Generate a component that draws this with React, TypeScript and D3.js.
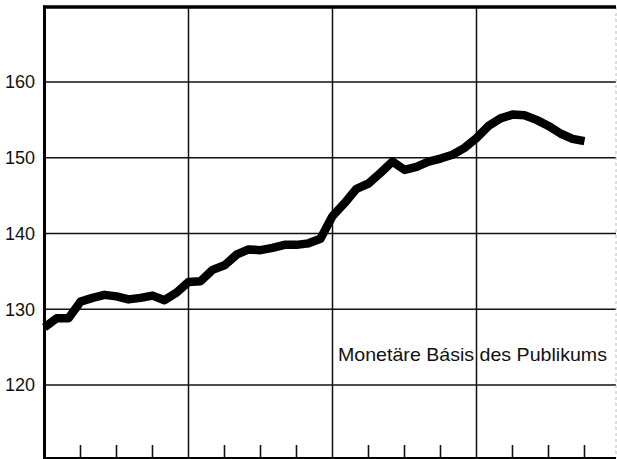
import React from "react";
import * as d3 from "d3";

const months: number[] = d3.range(0, 46);
const values: number[] = [
  127.6, 128.8, 128.8, 131.0, 131.5, 131.9, 131.7, 131.3, 131.5, 131.8, 131.2, 132.2,
  133.6, 133.7, 135.2, 135.8, 137.2, 137.9, 137.8, 138.1, 138.5, 138.5, 138.7, 139.3,
  142.3, 144.0, 145.9, 146.6, 148.0, 149.5, 148.4, 148.8, 149.5, 149.9, 150.4, 151.3,
  152.6, 154.2, 155.2, 155.7, 155.6, 155.0, 154.2, 153.2, 152.5, 152.2,
];
const yTicks: number[] = [120, 130, 140, 150, 160];
const yearBoundaries: number[] = [12, 24, 36];
const quarterTicks: number[] = [3, 6, 9, 15, 18, 21, 27, 30, 33, 39, 42, 45];
const seriesLabel = "Monetäre Básis des Publikums";

const W = 617;
const H = 459;

export default function App() {
  const x = d3.scaleLinear().domain([0, 48]).range([44.5, 620.5]);
  const y = d3.scaleLinear().domain([120, 160]).range([385, 82]);
  const top = y(169.9);
  const bottom = 458;
  const left = x(0);
  const right = 616;

  const line = d3
    .line<number>()
    .x((_, i) => x(months[i]))
    .y((d) => y(d))
    .curve(d3.curveLinear);

  return (
    <svg
      width={W}
      height={H}
      style={{ position: "absolute", left: 0, top: 0, background: "#fff" }}
      fontFamily="'Liberation Sans', Arial, sans-serif"
    >
      {yTicks.map((t) => (
        <line key={"g" + t} x1={left} x2={right} y1={y(t)} y2={y(t)} stroke="#111" strokeWidth={1.5} />
      ))}
      {yearBoundaries.map((m) => (
        <line key={"v" + m} x1={x(m)} x2={x(m)} y1={top} y2={bottom} stroke="#111" strokeWidth={1.5} />
      ))}
      {quarterTicks.map((m) => (
        <line key={"t" + m} x1={x(m)} x2={x(m)} y1={bottom - 13} y2={bottom} stroke="#111" strokeWidth={1.6} />
      ))}
      <line x1={right} x2={right} y1={top} y2={bottom} stroke="#bbb" strokeWidth={1} strokeDasharray="3 3" />
      <line x1={left - 1.5} x2={right} y1={top} y2={top} stroke="#000" strokeWidth={3.5} />
      <line x1={left} x2={right} y1={bottom} y2={bottom} stroke="#000" strokeWidth={2} />
      <line x1={left} x2={left} y1={top - 1.5} y2={bottom + 1} stroke="#000" strokeWidth={3} />
      {yTicks.map((t) => (
        <text key={"l" + t} x={35} y={y(t)} dy="0.36em" textAnchor="end" fontSize={18} fill="#111">
          {t}
        </text>
      ))}
      <path
        d={line(values) || ""}
        fill="none"
        stroke="#000"
        strokeWidth={8.5}
        strokeLinejoin="round"
        strokeLinecap="butt"
      />
      <text x={338} y={361} fontSize={18.5} fill="#111" textLength={269} lengthAdjust="spacingAndGlyphs">
        {seriesLabel}
      </text>
    </svg>
  );
}
